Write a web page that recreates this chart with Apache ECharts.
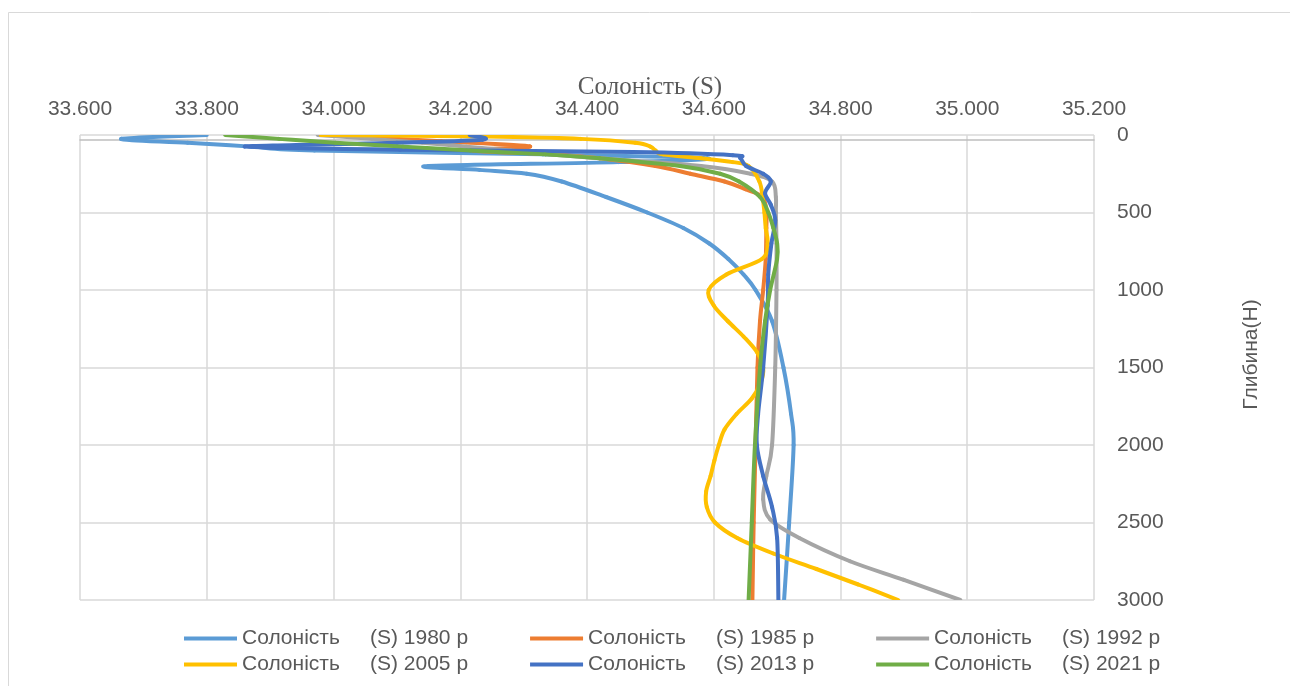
<!DOCTYPE html>
<html>
<head>
<meta charset="utf-8">
<script src="https://cdn.jsdelivr.net/npm/echarts@6/dist/echarts.min.js"></script>
<style>
  html, body { margin: 0; padding: 0; background: #ffffff; }
  #chart { width: 1290px; height: 686px; }
</style>
</head>
<body>
<div id="chart"></div>
<script>
// Salinity profiles (S) against depth (m), one pair of arrays per survey year
const depth1980 = [0, 25, 50, 75, 100, 125, 150, 175, 200, 225, 250, 300, 400, 500, 600, 700, 800, 900, 1000, 1200, 1500, 1800, 2000, 2500, 3000];
const sal1980   = [33.80, 33.665, 33.77, 33.87, 33.97, 34.33, 34.59, 34.45, 34.15, 34.23, 34.305, 34.36, 34.43, 34.495, 34.552, 34.593, 34.623, 34.647, 34.666, 34.692, 34.71, 34.722, 34.726, 34.719, 34.711];

const depth1985 = [15, 40, 73, 100, 125, 150, 200, 250, 300, 350, 400, 500, 600, 800, 1000, 1200, 1500, 2000, 2500, 3000];
const sal1985   = [34.05, 34.17, 34.31, 34.22, 34.35, 34.42, 34.508, 34.563, 34.617, 34.65, 34.677, 34.683, 34.683, 34.682, 34.678, 34.673, 34.669, 34.666, 34.663, 34.661];

const depth1992 = [0, 25, 50, 75, 100, 125, 150, 200, 250, 300, 400, 500, 700, 1000, 1500, 2000, 2200, 2350, 2480, 2600, 2750, 2870, 3000];
const sal1992   = [33.975, 34.06, 34.14, 34.21, 34.28, 34.34, 34.42, 34.58, 34.658, 34.692, 34.698, 34.698, 34.699, 34.699, 34.697, 34.692, 34.683, 34.678, 34.689, 34.735, 34.815, 34.90, 34.989];

const depth2005 = [0, 10, 25, 50, 75, 100, 125, 150, 175, 200, 300, 400, 500, 600, 700, 800, 900, 1000, 1100, 1200, 1300, 1400, 1500, 1600, 1700, 1800, 1900, 2000, 2100, 2200, 2300, 2400, 2500, 2600, 2700, 2800, 2900, 3000];
const sal2005   = [33.98, 34.24, 34.39, 34.476, 34.50, 34.508, 34.52, 34.58, 34.63, 34.655, 34.672, 34.677, 34.680, 34.682, 34.685, 34.676, 34.62, 34.592, 34.60, 34.622, 34.647, 34.668, 34.678, 34.674, 34.66, 34.636, 34.617, 34.608, 34.601, 34.595, 34.588, 34.589, 34.602, 34.637, 34.694, 34.762, 34.828, 34.891];

const depth2013 = [0, 30, 50, 75, 95, 110, 130, 150, 200, 250, 300, 375, 450, 550, 700, 900, 1100, 1500, 1800, 2000, 2200, 2400, 2600, 3000];
const sal2013   = [34.215, 34.235, 34.10, 33.86, 34.105, 34.473, 34.63, 34.642, 34.651, 34.678, 34.69, 34.681, 34.69, 34.697, 34.691, 34.686, 34.685, 34.678, 34.67, 34.668, 34.678, 34.692, 34.70, 34.702];

const depth2021 = [0, 25, 50, 75, 100, 125, 150, 200, 250, 300, 400, 500, 600, 700, 800, 1000, 1200, 1500, 2000, 2500, 3000];
const sal2021   = [33.829, 33.914, 34.003, 34.11, 34.216, 34.334, 34.42, 34.547, 34.61, 34.64, 34.673, 34.686, 34.694, 34.70, 34.70, 34.689, 34.681, 34.673, 34.665, 34.66, 34.655];

const seriesNames  = ['Солоність (S) 1980 р', 'Солоність (S) 1985 р', 'Солоність (S) 1992 р',
                      'Солоність (S) 2005 р', 'Солоність (S) 2013 р', 'Солоність (S) 2021 р'];
const seriesColors = ['#5B9BD5', '#ED7D31', '#A5A5A5', '#FFC000', '#4472C4', '#70AD47'];
const profiles = [
  [sal1980, depth1980], [sal1985, depth1985], [sal1992, depth1992],
  [sal2005, depth2005], [sal2013, depth2013], [sal2021, depth2021]
];

const xTitle = 'Солоність (S)';
const yTitle = 'Глибина(Н)';

const FONT = 'Liberation Sans';
const TEXT = '#595959';
const GRID = '#D9D9D9';
const LINE_WIDTH = 4;

const chart = echarts.init(document.getElementById('chart'), null, { renderer: 'canvas' });

function legendLabel(name) {
  const i = name.indexOf('(');
  return '{a|' + name.slice(0, i).trim() + '}{b|' + name.slice(i) + '}';
}

function legendRow(names, top) {
  return {
    data: names,
    left: 184,
    top: top,
    orient: 'horizontal',
    icon: 'rect',
    itemWidth: 53,
    itemHeight: 4,
    itemGap: 62,
    padding: 0,
    formatter: legendLabel,
    textStyle: {
      fontFamily: FONT,
      fontSize: 21,
      color: TEXT,
      rich: {
        a: { fontFamily: FONT, fontSize: 21, color: TEXT, width: 128 },
        b: { fontFamily: FONT, fontSize: 21, color: TEXT, width: 101 }
      }
    }
  };
}

// Smoothed profile: each data item draws the cubic Bezier segment to the next
// point, with Catmull-Rom control points taken from the neighbouring points.
function profileSeries(sal, depth, name, color) {
  const n = sal.length;
  return {
    name: name,
    type: 'custom',
    coordinateSystem: 'cartesian2d',
    clip: true,
    itemStyle: { color: color },
    encode: { x: 0, y: 1 },
    data: sal.map((s, i) => [s, depth[i]]),
    renderItem: function (params, api) {
      const i = params.dataIndex;
      if (i >= n - 1) return { type: 'group', children: [] };
      const at = j => {
        const k = Math.max(0, Math.min(n - 1, j));
        return api.coord([sal[k], depth[k]]);
      };
      const p0 = at(i - 1), p1 = at(i), p2 = at(i + 1), p3 = at(i + 2);
      return {
        type: 'bezierCurve',
        shape: {
          x1: p1[0], y1: p1[1],
          cpx1: p1[0] + (p2[0] - p0[0]) / 6, cpy1: p1[1] + (p2[1] - p0[1]) / 6,
          cpx2: p2[0] - (p3[0] - p1[0]) / 6, cpy2: p2[1] - (p3[1] - p1[1]) / 6,
          x2: p2[0], y2: p2[1]
        },
        style: { stroke: color, lineWidth: LINE_WIDTH, fill: null, lineCap: 'round', lineJoin: 'round' },
        silent: true
      };
    }
  };
}

chart.setOption({
  animation: false,
  backgroundColor: '#ffffff',
  grid: { left: 80, right: 196, top: 135, bottom: 86 },
  graphic: [
    {
      type: 'rect',
      shape: { x: 8.5, y: 12.5, width: 1300, height: 700 },
      style: { fill: 'none', stroke: GRID, lineWidth: 1 },
      silent: true
    },
    {
      type: 'text',
      x: 650,
      y: 87,
      style: {
        text: xTitle,
        fontFamily: 'Liberation Serif',
        fontSize: 25,
        fill: TEXT,
        align: 'center',
        verticalAlign: 'middle'
      },
      silent: true
    }
  ],
  legend: [
    legendRow(seriesNames.slice(0, 3), 628),
    legendRow(seriesNames.slice(3, 6), 654)
  ],
  xAxis: {
    type: 'value',
    position: 'top',
    min: 33.6,
    max: 35.2,
    interval: 0.2,
    offset: -5,
    axisLine: { show: true, lineStyle: { color: '#BFBFBF', width: 1.5 } },
    axisTick: { show: false },
    axisLabel: {
      margin: 20,
      fontFamily: FONT,
      fontSize: 21,
      color: TEXT,
      formatter: v => v.toFixed(3)
    },
    splitLine: { show: true, lineStyle: { color: GRID, width: 1.5 } }
  },
  yAxis: {
    type: 'value',
    position: 'right',
    inverse: true,
    min: 0,
    max: 3000,
    interval: 500,
    axisLine: { show: false },
    axisTick: { show: false },
    axisLabel: { margin: 23, fontFamily: FONT, fontSize: 21, color: TEXT, formatter: v => String(v) },
    splitLine: { show: true, lineStyle: { color: GRID, width: 1.5 } },
    name: yTitle,
    nameLocation: 'middle',
    nameRotate: 90,
    nameGap: 147,
    nameTextStyle: { fontFamily: FONT, fontSize: 21, color: TEXT, padding: [0, 0, 0, 26] }
  },
  series: profiles.map((p, k) => profileSeries(p[0], p[1], seriesNames[k], seriesColors[k]))
});
</script>
</body>
</html>
